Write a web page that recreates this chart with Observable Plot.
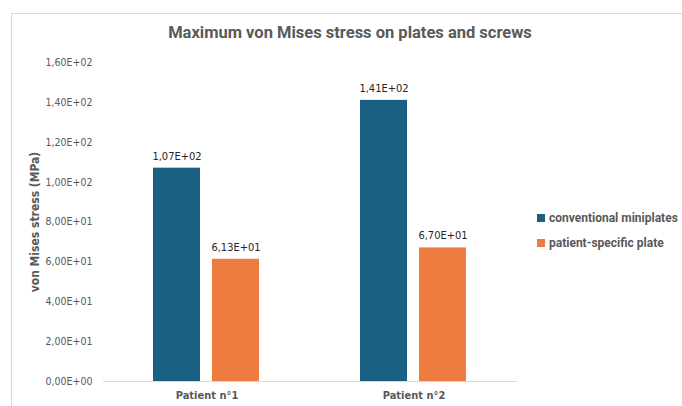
<!DOCTYPE html>
<html>
<head>
<meta charset="utf-8">
<script src="https://cdn.jsdelivr.net/npm/d3@7"></script>
<script src="https://cdn.jsdelivr.net/npm/@observablehq/plot@0.6"></script>
<style>
  html, body { margin: 0; padding: 0; background: #fff; }
  #wrap { position: relative; width: 682px; height: 406px; overflow: hidden;
    font-family: "DejaVu Sans Condensed", "Roboto", sans-serif; }
  #frame { position: absolute; left: 11px; top: 13px; width: 700px; height: 420px;
    border-left: 1px solid #d9d9d9; border-top: 1px solid #d9d9d9; }
  #title { position: absolute; left: 0; width: 700px; top: 23px; text-align: center;
    font-family: "Roboto", sans-serif; font-size: 16.5px; font-weight: bold; color: #595959; white-space: nowrap; }
  #chart { position: absolute; left: 0; top: 0; }
  #legend { position: absolute; left: 537px; top: 205px; font-family: "Roboto", sans-serif;
    font-size: 12px; font-weight: bold; color: #595959; white-space: nowrap; }
  .item { display: flex; align-items: center; height: 25px; }
  .sw { width: 8px; height: 8px; margin-right: 4px; }
</style>
</head>
<body>
<div id="wrap">
  <div id="frame"></div>
  <div id="chart"></div>
  <div id="title">Maximum von Mises stress on plates and screws</div>
  <div id="legend"></div>
</div>
<script>
const patients = ["Patient n°1", "Patient n°2"];
const series = ["conventional miniplates", "patient-specific plate"];
const conventional = [107, 141];
const patientSpecific = [61.3, 67.0];
const colors = ["#1a6082", "#ee7b3f"];
const yTicks = [0, 20, 40, 60, 80, 100, 120, 140, 160];

const data = [];
patients.forEach((p, i) => {
  data.push({patient: p, series: series[0], value: conventional[i]});
  data.push({patient: p, series: series[1], value: patientSpecific[i]});
});

const fmt = v => {
  const [m, e] = v.toExponential(2).split("e");
  const ei = +e;
  return m.replace(".", ",") + "E" + (ei < 0 ? "-" : "+") + String(Math.abs(ei)).padStart(2, "0");
};

const FONT = '"DejaVu Sans Condensed", "Roboto", sans-serif';

const chart = Plot.plot({
  width: 682,
  height: 406,
  marginTop: 62,
  marginBottom: 25,
  marginLeft: 103,
  marginRight: 165,
  style: {fontFamily: FONT, background: "transparent", color: "#595959"},
  fx: {domain: patients, padding: 0},
  x: {domain: series, paddingInner: 0.203, paddingOuter: 0.855, axis: null},
  y: {domain: [0, 160]},
  color: {domain: series, range: colors},
  marks: [
    Plot.axisY({ticks: yTicks, tickSize: 0, tickPadding: 11, tickFormat: fmt, fontSize: 10.5,
      label: "von Mises stress (MPa)", labelAnchor: "center", labelArrow: "none", labelOffset: 73}),
    Plot.axisFx({anchor: "bottom", tickSize: 0, tickPadding: 10, fontSize: 11, fontWeight: "bold", label: null}),
    Plot.barY(data, {fx: "patient", x: "series", y: "value", fill: "series"}),
    Plot.ruleY([0], {stroke: "#d9d9d9", strokeWidth: 1}),
    Plot.text(data, {fx: "patient", x: "series", y: "value", text: d => fmt(d.value),
      dy: -12, fontSize: 11, fill: "#262626"})
  ]
});
chart.querySelectorAll("[aria-label='y-axis label'] text").forEach(t => {
  t.setAttribute("font-weight", "bold"); t.setAttribute("font-size", "12");
});
document.getElementById("chart").appendChild(chart);

const legend = document.getElementById("legend");
series.forEach((s, i) => {
  const it = document.createElement("div");
  it.className = "item";
  const sw = document.createElement("div");
  sw.className = "sw";
  sw.style.background = colors[i];
  const tx = document.createElement("span");
  tx.textContent = s;
  it.appendChild(sw); it.appendChild(tx);
  legend.appendChild(it);
});
</script>
</body>
</html>
